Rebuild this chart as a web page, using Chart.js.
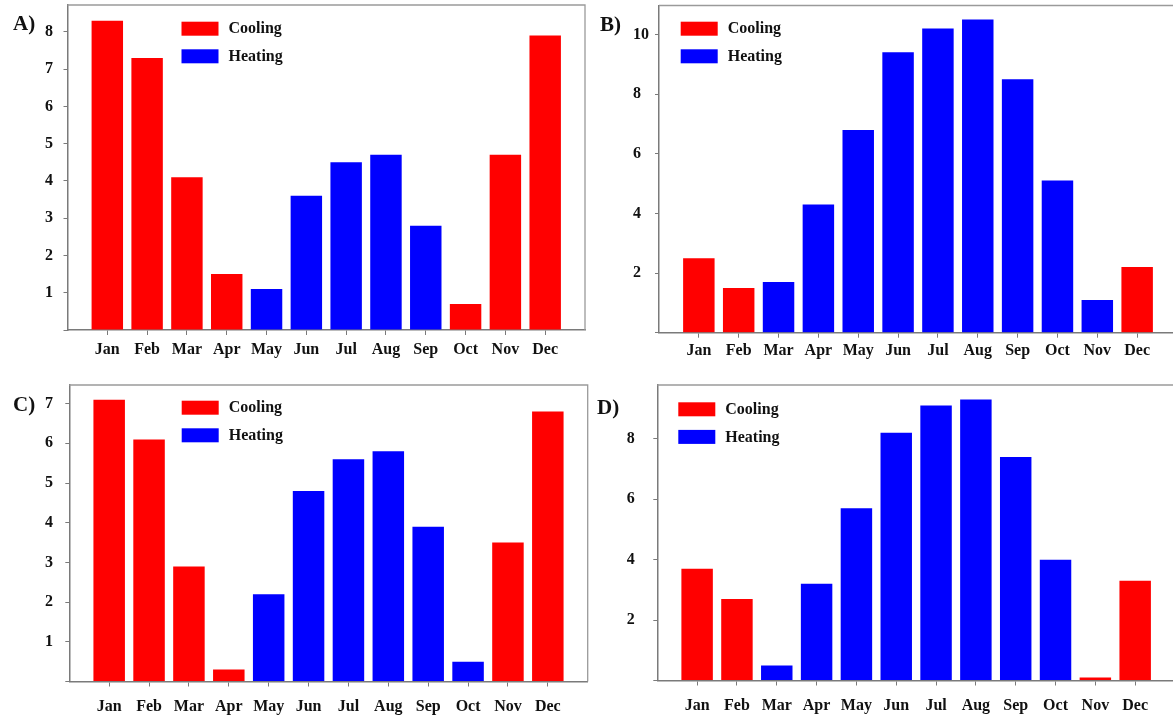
<!DOCTYPE html>
<html>
<head>
<meta charset="utf-8">
<title>Cooling / Heating by month</title>
<script src="https://cdn.jsdelivr.net/npm/chart.js@4.4.1/dist/chart.umd.min.js"></script>
<style>
  html, body { margin: 0; padding: 0; background: #fff; }
  body { width: 1173px; height: 721px; overflow: hidden; position: relative; }
  canvas { position: absolute; }
</style>
</head>
<body>
<canvas id="chartA" width="590" height="365" style="left:0px;top:0px"></canvas>
<canvas id="chartB" width="600" height="365" style="left:590px;top:0px"></canvas>
<canvas id="chartC" width="595" height="356" style="left:0px;top:365px"></canvas>
<canvas id="chartD" width="600" height="356" style="left:590px;top:365px"></canvas>
<script>
// Data
const MONTHS = ['Jan', 'Feb', 'Mar', 'Apr', 'May', 'Jun', 'Jul', 'Aug', 'Sep', 'Oct', 'Nov', 'Dec'];
const SERIES_NAMES = ['Cooling', 'Heating'];
const SERIES_KEYS = ['C', 'H'];

const valuesA = [8.3, 7.3, 4.1, 1.5, 1.1, 3.6, 4.5, 4.7, 2.8, 0.7, 4.7, 7.9];
const modesA  = ['C', 'C', 'C', 'C', 'H', 'H', 'H', 'H', 'H', 'C', 'C', 'C'];

const valuesB = [2.5, 1.5, 1.7, 4.3, 6.8, 9.4, 10.2, 10.5, 8.5, 5.1, 1.1, 2.2];
const modesB  = ['C', 'C', 'H', 'H', 'H', 'H', 'H', 'H', 'H', 'H', 'H', 'C'];

const valuesC = [7.1, 6.1, 2.9, 0.3, 2.2, 4.8, 5.6, 5.8, 3.9, 0.5, 3.5, 6.8];
const modesC  = ['C', 'C', 'C', 'C', 'H', 'H', 'H', 'H', 'H', 'H', 'C', 'C'];

const valuesD = [3.7, 2.7, 0.5, 3.2, 5.7, 8.2, 9.1, 9.3, 7.4, 4.0, 0.1, 3.3];
const modesD  = ['C', 'C', 'H', 'H', 'H', 'H', 'H', 'H', 'H', 'H', 'C', 'C'];

// Styling
const SERIES_COLORS = ['#ff0000', '#0000ff'];
const AXIS_COLOR = '#7a7a7a';
const FRAME_COLOR = '#9a9a9a';
const TEXT_COLOR = '#111';
const FONT_FAMILY = "'Liberation Serif', 'Times New Roman', serif";

// Panel placement (page pixels)
const panels = [
  { id: 'chartA', tag: 'A)', values: valuesA, modes: modesA, yMax: 8.72, yStep: 1,
    box: { x: 0, y: 0, w: 590, h: 365 }, area: { left: 67.5, top: 5, right: 585, bottom: 330 },
    labelLeft: 45, xPad: 5.4, legend: { dx: 114, dy: 16.7 }, tagPos: { dx: -54.5, dy: 25 } },
  { id: 'chartB', tag: 'B)', values: valuesB, modes: modesB, yMax: 10.97, yStep: 2,
    box: { x: 590, y: 0, w: 600, h: 365 }, area: { left: 659, top: 5.5, right: 1177, bottom: 332.7 },
    labelLeft: 633, xPad: 3.4, legend: { dx: 21.7, dy: 16.2 }, tagPos: { dx: -59, dy: 25 } },
  { id: 'chartC', tag: 'C)', values: valuesC, modes: modesC, yMax: 7.47, yStep: 1,
    box: { x: 0, y: 365, w: 595, h: 356 }, area: { left: 69.3, top: 385, right: 587.7, bottom: 681.5 },
    labelLeft: 45, xPad: 10.6, legend: { dx: 112.4, dy: 15.7 }, tagPos: { dx: -56.3, dy: 26 } },
  { id: 'chartD', tag: 'D)', values: valuesD, modes: modesD, yMax: 9.78, yStep: 2,
    box: { x: 590, y: 365, w: 600, h: 356 }, area: { left: 657.3, top: 385, right: 1175, bottom: 680.5 },
    labelLeft: 626.7, xPad: 10.5, legend: { dx: 21, dy: 17.3 }, tagPos: { dx: -60.3, dy: 29 } }
];

// Top/right frame, inner legend and panel tag
const panelDecor = {
  id: 'panelDecor',
  afterDraw(chart, args, opts) {
    const { ctx, chartArea } = chart;
    const { left, top, right, bottom } = chartArea;
    ctx.save();

    ctx.strokeStyle = FRAME_COLOR;
    ctx.lineWidth = 1.3;
    ctx.beginPath();
    ctx.moveTo(left, top);
    ctx.lineTo(right, top);
    ctx.lineTo(right, bottom);
    ctx.stroke();

    // legend, one row per dataset
    ctx.font = 'bold 16px ' + FONT_FAMILY;
    ctx.textBaseline = 'middle';
    ctx.textAlign = 'left';
    chart.data.datasets.forEach((ds, k) => {
      const bx = left + opts.legend.dx;
      const by = top + opts.legend.dy + k * 27.6;
      ctx.fillStyle = ds.backgroundColor;
      ctx.fillRect(bx, by, 37, 14);
      ctx.fillStyle = TEXT_COLOR;
      ctx.fillText(ds.label, bx + 47, by + 7.5);
    });

    ctx.font = 'bold 21px ' + FONT_FAMILY;
    ctx.textBaseline = 'alphabetic';
    ctx.fillStyle = TEXT_COLOR;
    ctx.fillText(opts.tag, left + opts.tagPos.dx, top + opts.tagPos.dy);

    ctx.restore();
  }
};

function buildDatasets(values, modes) {
  return SERIES_NAMES.map((name, k) => ({
    label: name,
    data: values.map((v, i) => ({ x: i, y: modes[i] === SERIES_KEYS[k] ? v : null })),
    backgroundColor: SERIES_COLORS[k],
    borderWidth: 0,
    grouped: false,
    categoryPercentage: 1,
    barPercentage: 0.79
  }));
}

function makeChart(p) {
  const tickFont = { family: FONT_FAMILY, size: 16, weight: 'bold' };
  const padLeft = p.labelLeft - p.box.x;

  return new Chart(document.getElementById(p.id), {
    type: 'bar',
    data: { datasets: buildDatasets(p.values, p.modes) },
    plugins: [panelDecor],
    options: {
      responsive: false,
      animation: false,
      events: [],
      layout: {
        padding: {
          left: padLeft,
          top: p.area.top - p.box.y,
          right: p.box.x + p.box.w - p.area.right,
          bottom: 0
        }
      },
      plugins: {
        legend: { display: false },
        tooltip: { enabled: false },
        panelDecor: { tag: p.tag, legend: p.legend, tagPos: p.tagPos }
      },
      scales: {
        x: {
          type: 'linear',
          min: -1,
          max: 12,
          offset: false,
          afterBuildTicks: s => { s.ticks = MONTHS.map((m, i) => ({ value: i })); },
          afterFit: s => {
            s.height = p.box.y + p.box.h - p.area.bottom;
            s.paddingLeft = 0;
            s.paddingRight = 0;
          },
          ticks: {
            autoSkip: false,
            maxRotation: 0,
            padding: p.xPad,
            color: TEXT_COLOR,
            font: tickFont,
            callback: v => MONTHS[v] || ''
          },
          grid: { offset: false, drawOnChartArea: false, tickLength: 5, color: AXIS_COLOR, tickWidth: 1 },
          border: { color: AXIS_COLOR, width: 1.5 }
        },
        y: {
          min: 0,
          max: p.yMax,
          afterBuildTicks: s => {
            const t = [];
            for (let v = 0; v <= p.yMax; v += p.yStep) t.push({ value: v });
            s.ticks = t;
          },
          afterFit: s => {
            s.width = p.area.left - p.labelLeft;
            s.paddingTop = 0;
            s.paddingBottom = 0;
          },
          ticks: {
            crossAlign: 'far',
            color: TEXT_COLOR,
            font: tickFont,
            callback: v => (v > 0 ? String(v) : '')
          },
          grid: { drawOnChartArea: false, tickLength: 4, color: AXIS_COLOR, tickWidth: 1 },
          border: { color: AXIS_COLOR, width: 1.5 }
        }
      }
    }
  });
}

panels.forEach(makeChart);
</script>
</body>
</html>
